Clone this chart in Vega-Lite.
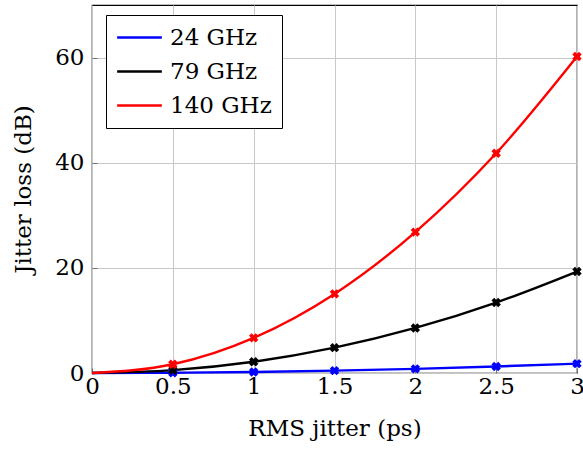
{
  "$schema": "https://vega.github.io/schema/vega-lite/v6.json",
  "width": 485,
  "height": 368,
  "autosize": {"type": "none"},
  "padding": {"left": 92, "top": 5, "right": 6, "bottom": 76},
  "background": "white",
  "config": {
    "font": "DejaVu Serif",
    "view": {"stroke": "black", "strokeWidth": 1.2},
    "axis": {
      "labelFont": "DejaVu Serif",
      "titleFont": "DejaVu Serif",
      "labelFontSize": 23,
      "titleFontSize": 23,
      "labelColor": "black",
      "titleColor": "black",
      "titleFontWeight": "normal",
      "gridColor": "#c8c8c8",
      "gridWidth": 1,
      "domain": false,
      "ticks": true,
      "tickSize": -5,
      "tickColor": "#707070",
      "tickWidth": 1
    }
  },
  "data": {
    "values": [
      {"jitter": 0, "loss": 0, "band": "24 GHz"},
      {"jitter": 0.5, "loss": 0.05, "band": "24 GHz"},
      {"jitter": 1, "loss": 0.2, "band": "24 GHz"},
      {"jitter": 1.5, "loss": 0.45, "band": "24 GHz"},
      {"jitter": 2, "loss": 0.79, "band": "24 GHz"},
      {"jitter": 2.5, "loss": 1.24, "band": "24 GHz"},
      {"jitter": 3, "loss": 1.78, "band": "24 GHz"},
      {"jitter": 0, "loss": 0, "band": "79 GHz"},
      {"jitter": 0.5, "loss": 0.54, "band": "79 GHz"},
      {"jitter": 1, "loss": 2.14, "band": "79 GHz"},
      {"jitter": 1.5, "loss": 4.82, "band": "79 GHz"},
      {"jitter": 2, "loss": 8.57, "band": "79 GHz"},
      {"jitter": 2.5, "loss": 13.4, "band": "79 GHz"},
      {"jitter": 3, "loss": 19.3, "band": "79 GHz"},
      {"jitter": 0, "loss": 0, "band": "140 GHz"},
      {"jitter": 0.5, "loss": 1.67, "band": "140 GHz"},
      {"jitter": 1, "loss": 6.69, "band": "140 GHz"},
      {"jitter": 1.5, "loss": 15.05, "band": "140 GHz"},
      {"jitter": 2, "loss": 26.8, "band": "140 GHz"},
      {"jitter": 2.5, "loss": 41.8, "band": "140 GHz"},
      {"jitter": 3, "loss": 60.2, "band": "140 GHz"}
    ]
  },
  "encoding": {
    "x": {
      "field": "jitter",
      "type": "quantitative",
      "scale": {"domain": [0, 3], "nice": false, "zero": false},
      "axis": {
        "values": [0, 0.5, 1, 1.5, 2, 2.5, 3],
        "format": "~g",
        "title": "RMS jitter (ps)",
        "labelPadding": 7,
        "titlePadding": 19,
        "labelFlush": false
      }
    },
    "y": {
      "field": "loss",
      "type": "quantitative",
      "scale": {"domain": [0, 70], "nice": false},
      "axis": {
        "values": [0, 20, 40, 60],
        "title": "Jitter loss (dB)",
        "labelPadding": 13,
        "titlePadding": 19,
        "labelFlush": false
      }
    },
    "color": {
      "field": "band",
      "type": "nominal",
      "scale": {"domain": ["24 GHz", "79 GHz", "140 GHz"], "range": ["#0000ff", "#000000", "#ff0000"]}
    }
  },
  "layer": [
    {
      "mark": {"type": "line", "interpolate": "monotone", "strokeWidth": 2.4},
      "encoding": {
        "color": {
          "field": "band",
          "type": "nominal",
          "scale": {"domain": ["24 GHz", "79 GHz", "140 GHz"], "range": ["#0000ff", "#000000", "#ff0000"]},
          "legend": {
            "title": null,
            "orient": "none",
            "legendX": 14,
            "legendY": 10,
            "symbolType": "M-2,0H2",
            "symbolSize": 500,
            "symbolStrokeWidth": 2.4,
            "symbolOffset": 11,
            "labelFontSize": 23,
            "labelFont": "DejaVu Serif",
            "labelColor": "black",
            "labelOffset": 18,
            "rowPadding": 9,
            "padding": 10,
            "strokeColor": "black",
            "fillColor": "white",
            "cornerRadius": 0
          }
        }
      }
    },
    {
      "transform": [{"filter": "datum.jitter > 0"}],
      "mark": {"type": "point", "shape": "cross", "angle": 45, "filled": true, "size": 90, "opacity": 1},
      "encoding": {
        "color": {"field": "band", "type": "nominal", "legend": null}
      }
    }
  ]
}
